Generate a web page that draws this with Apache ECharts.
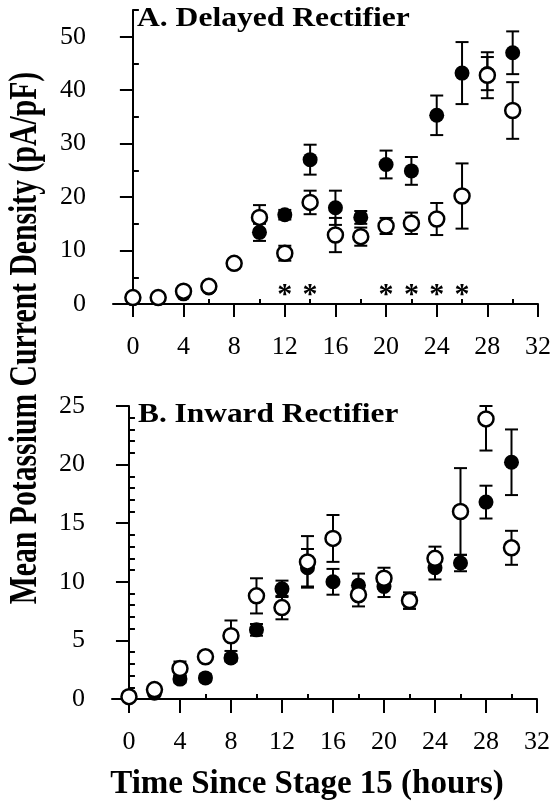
<!DOCTYPE html>
<html lang="en">
<head>
    <meta charset="UTF-8">
    <title>Potassium current density</title>
    <script src="https://cdn.jsdelivr.net/npm/echarts@6/dist/echarts.min.js"></script>
    <style>
        body, html { background: #fff; width: 100%; height: 100%; margin: 0; }
        #chart { width: 554px; height: 805px; }
    </style>
</head>
<body>
    <div id="chart"></div>
    <script>
        // hours since stage 15
        var hours = [0, 2, 4, 6, 8, 10, 12, 14, 16, 18, 20, 22, 24, 26, 28, 30];

        // A. delayed rectifier (mean, s.e.m.)
        var delayedFilled    = [1.0, 1.1, 1.9, 3.0, 7.5, 13.4, 16.7, 27.0, 18.0, 16.2, 26.1, 24.9, 35.3, 43.2, 43.1, 47.0];
        var delayedFilledErr = [0.3, 0.3, 0.5, 0.5, 0.8, 1.6, 0.9, 2.8, 3.2, 1.2, 2.6, 2.6, 3.7, 5.8, 3.1, 4.0];
        var delayedOpen      = [1.2, 1.2, 2.4, 3.3, 7.6, 16.2, 9.5, 19.0, 12.9, 12.6, 14.6, 15.1, 15.9, 20.2, 42.8, 36.2];
        var delayedOpenErr   = [0.3, 0.3, 0.5, 0.6, 0.8, 2.3, 1.4, 2.2, 3.2, 1.7, 1.5, 2.0, 3.0, 6.1, 4.3, 5.3];
        var starHours = [12, 14, 20, 22, 24, 26];
        var starLevel = 1.6;

        // B. inward rectifier
        var inwardFilled    = [0.2, 0.5, 1.7, 1.8, 3.5, 5.9, 9.4, 11.2, 10.0, 9.7, 9.6, 8.3, 11.2, 11.6, 16.8, 20.2];
        var inwardFilledErr = [0.2, 0.2, 0.3, 0.3, 0.3, 0.5, 0.7, 1.6, 1.1, 1.0, 0.9, 0.6, 1.0, 0.7, 1.4, 2.8];
        var inwardOpen      = [0.2, 0.8, 2.6, 3.6, 5.4, 8.8, 7.8, 11.7, 13.7, 8.9, 10.3, 8.4, 12.0, 16.0, 23.9, 12.9];
        var inwardOpenErr   = [0.2, 0.2, 0.6, 0.3, 1.3, 1.5, 1.0, 2.2, 2.0, 1.0, 0.9, 0.7, 1.0, 3.7, 2.7, 1.45];

        var xMajor = [0, 4, 8, 12, 16, 20, 24, 28, 32];
        var xMinor = [2, 6, 10, 14, 18, 22, 26, 30];
        var yMajorA = [0, 10, 20, 30, 40, 50];
        var yMinorA = [5, 15, 25, 35, 45, 55];
        var yMajorB = [0, 5, 10, 15, 20, 25];
        var yMinorB = [];
        for (var v = 1; v < 25; v++) if (v % 5 != 0) yMinorB.push(v);

        var serif = '"Liberation Serif", "Times New Roman", serif';

        function pts(y, e) {
            return hours.map(function (h, i) { return [h, y[i], e[i]]; });
        }

        function errBars(ymax) {
            return function (params, api) {
                var x = api.value(0), m = api.value(1), e = api.value(2);
                var hi = api.coord([x, Math.min(m + e, ymax)]);
                var lo = api.coord([x, m - e]);
                var w = 6.5;
                var st = { stroke: '#000', lineWidth: 2 };
                return {
                    type: 'group',
                    children: [
                        { type: 'line', shape: { x1: hi[0], y1: hi[1], x2: lo[0], y2: lo[1] }, style: st },
                        { type: 'line', shape: { x1: hi[0] - w, y1: hi[1], x2: hi[0] + w, y2: hi[1] }, style: st },
                        { type: 'line', shape: { x1: lo[0] - w, y1: lo[1], x2: lo[0] + w, y2: lo[1] }, style: st }
                    ]
                };
            };
        }

        function xAxes(grid, xmin, tickLen) {
            return [{
                gridIndex: grid, type: 'value', min: xmin, max: 32,
                axisLine: { lineStyle: { color: '#000', width: 2 } },
                axisTick: { customValues: xMajor, length: tickLen, lineStyle: { color: '#000', width: 2 } },
                axisLabel: { customValues: xMajor, margin: 30, color: '#000', fontFamily: serif, fontSize: 26 },
                splitLine: { show: false }
            }, {
                gridIndex: grid, type: 'value', min: xmin, max: 32,
                axisLine: { show: false },
                axisTick: { customValues: xMinor, length: 5, lineStyle: { color: '#000', width: 2 } },
                axisLabel: { show: false },
                splitLine: { show: false }
            }];
        }

        function yAxes(grid, ymax, major, minor) {
            return [{
                gridIndex: grid, type: 'value', min: 0, max: ymax,
                axisLine: { show: true, lineStyle: { color: '#000', width: 2 } },
                axisTick: { show: true, customValues: major, length: 13, lineStyle: { color: '#000', width: 2 } },
                axisLabel: { customValues: major, margin: 27, color: '#000', fontFamily: serif, fontSize: 26 },
                splitLine: { show: false }
            }, {
                gridIndex: grid, type: 'value', min: 0, max: ymax,
                axisLine: { show: false },
                axisTick: { show: true, customValues: minor, length: 6, lineStyle: { color: '#000', width: 2 } },
                axisLabel: { show: false },
                splitLine: { show: false }
            }];
        }

        function markers(name, xi, yi, data, open) {
            return {
                name: name, type: 'scatter', xAxisIndex: xi, yAxisIndex: yi,
                data: data, symbol: 'circle', symbolSize: 15,
                itemStyle: open ? { color: '#fff', borderColor: '#000', borderWidth: 2.5, opacity: 1 }
                                : { color: '#000', opacity: 1 },
                z: open ? 4 : 3, animation: false
            };
        }

        function bars(name, xi, yi, data, ymax, z) {
            return {
                name: name, type: 'custom', xAxisIndex: xi, yAxisIndex: yi,
                data: data, renderItem: errBars(ymax), z: z, animation: false
            };
        }

        var option = {
            animation: false,
            grid: [
                { left: 113, top: 10, width: 427, height: 294 },
                { left: 112, top: 406, width: 425, height: 293 }
            ],
            xAxis: xAxes(0, -1.57, 13).concat(xAxes(1, -1.33, 14)),
            yAxis: yAxes(0, 55, yMajorA, yMinorA).concat(yAxes(1, 25, yMajorB, yMinorB)),
            graphic: [
                { type: 'text', x: 137, y: 19, scaleX: 1.17,
                  style: { text: 'A. Delayed Rectifier', font: 'bold 27px ' + serif, fill: '#000', verticalAlign: 'middle' } },
                { type: 'text', x: 138, y: 415, scaleX: 1.12,
                  style: { text: 'B. Inward Rectifier', font: 'bold 28px ' + serif, fill: '#000', verticalAlign: 'middle' } },
                { type: 'text', x: 307, y: 784,
                  style: { text: 'Time Since Stage 15 (hours)', font: 'bold 33px ' + serif, fill: '#000', align: 'center', verticalAlign: 'middle' } },
                { type: 'text', x: 26, y: 338, rotation: Math.PI / 2, scaleX: 0.99, scaleY: 1.3,
                  style: { text: 'Mean Potassium Current Density (pA/pF)', font: 'bold 30px ' + serif, fill: '#000', align: 'center', verticalAlign: 'middle' } }
            ],
            series: [
                bars('A filled err', 0, 0, pts(delayedFilled, delayedFilledErr), 55, 2),
                markers('A filled', 0, 0, pts(delayedFilled, delayedFilledErr), false),
                bars('A open err', 0, 0, pts(delayedOpen, delayedOpenErr), 55, 3),
                markers('A open', 0, 0, pts(delayedOpen, delayedOpenErr), true),
                {
                    name: 'significant', type: 'scatter', xAxisIndex: 0, yAxisIndex: 0,
                    data: starHours.map(function (h) { return [h, starLevel]; }),
                    symbolSize: 1, itemStyle: { color: 'rgba(0,0,0,0)', opacity: 1 },
                    label: { show: true, position: 'inside', formatter: '*', color: '#000', opacity: 1,
                             fontFamily: serif, fontWeight: 'bold', fontSize: 30 },
                    z: 5, animation: false
                },
                bars('B filled err', 2, 2, pts(inwardFilled, inwardFilledErr), 25, 2),
                markers('B filled', 2, 2, pts(inwardFilled, inwardFilledErr), false),
                bars('B open err', 2, 2, pts(inwardOpen, inwardOpenErr), 25, 3),
                markers('B open', 2, 2, pts(inwardOpen, inwardOpenErr), true)
            ]
        };

        var myChart = echarts.init(document.getElementById('chart'));
        myChart.setOption(option);
    </script>
</body>
</html>
